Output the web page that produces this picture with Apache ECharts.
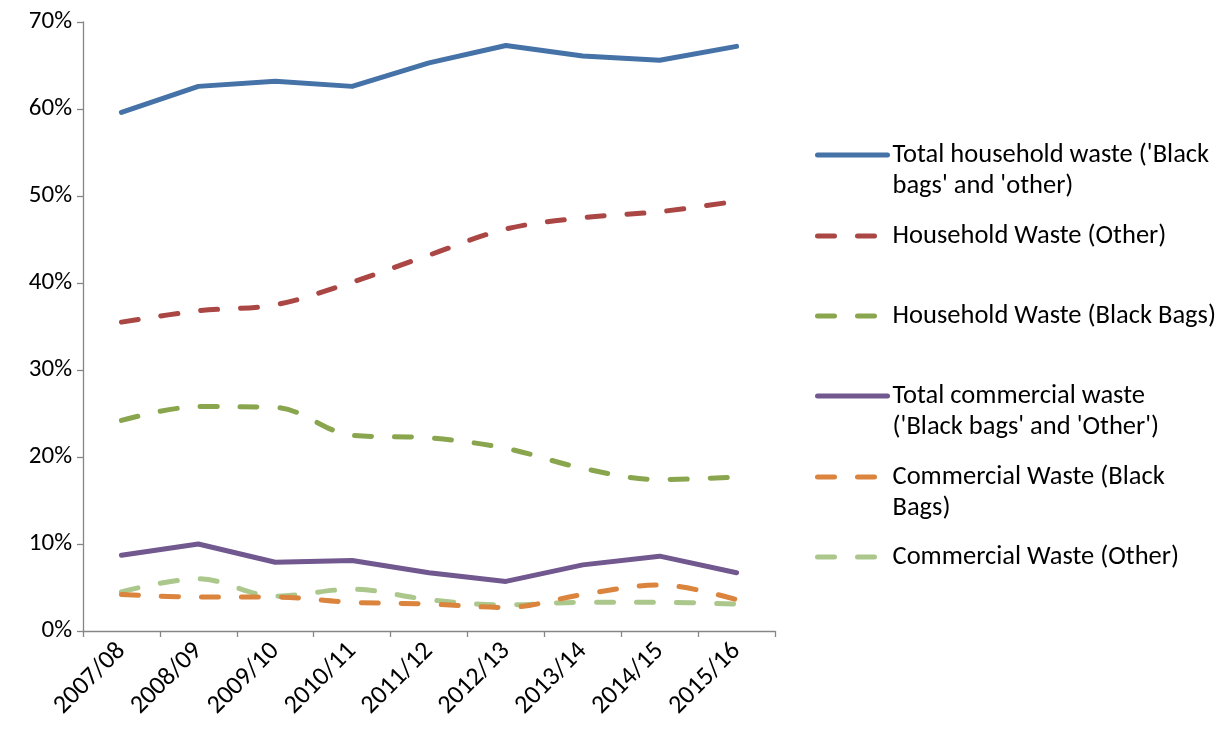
<!DOCTYPE html>
<html>
<head>
<meta charset="utf-8">
<title>Waste composition</title>
<script src="https://cdn.jsdelivr.net/npm/echarts@6/dist/echarts.min.js"></script>
<style>
  html, body { margin: 0; padding: 0; background: #ffffff; }
  #chart { width: 1220px; height: 729px; }
</style>
</head>
<body>
<div id="chart"></div>
<script>
// Financial years on the category axis
const years = ['2007/08', '2008/09', '2009/10', '2010/11', '2011/12', '2012/13', '2013/14', '2014/15', '2015/16'];

// Shares (%) for each waste stream
const totalHousehold = [59.6, 62.6, 63.2, 62.6, 65.3, 67.3, 66.1, 65.6, 67.2];
const householdOther = [35.5, 36.8, 37.5, 40.1, 43.2, 46.2, 47.5, 48.2, 49.4];
const householdBlackBags = [24.2, 25.8, 25.7, 22.5, 22.2, 21.0, 18.7, 17.4, 17.7];
const totalCommercial = [8.7, 10.0, 7.9, 8.1, 6.7, 5.7, 7.6, 8.6, 6.7];
const commercialBlackBags = [4.2, 3.9, 3.9, 3.3, 3.1, 2.7, 4.2, 5.3, 3.6];
const commercialOther = [4.5, 6.0, 4.0, 4.8, 3.6, 3.0, 3.3, 3.3, 3.1];

// Y axis ticks
const yTicks = [0, 10, 20, 30, 40, 50, 60, 70];

const seriesNames = [
  "Total household waste ('Black\nbags' and 'other)",
  'Household Waste (Other)',
  'Household Waste (Black Bags)',
  "Total commercial waste\n('Black bags' and 'Other')",
  'Commercial Waste (Black\nBags)',
  'Commercial Waste (Other)'
];
const seriesData = [totalHousehold, householdOther, householdBlackBags, totalCommercial, commercialBlackBags, commercialOther];
const seriesColors = ['#4572A7', '#AA4643', '#89A54E', '#71588F', '#DB843D', '#ABC78C'];
const dashed = [false, true, true, false, true, true];
const DASH = [17, 23];
const LINE_W = 5;

const FONT = 'Carlito, "Liberation Sans", Arial, sans-serif';
const chart = echarts.init(document.getElementById('chart'), null, { renderer: 'canvas' });

const series = seriesNames.map((name, i) => ({
  name: name,
  type: 'line',
  data: seriesData[i],
  symbol: 'none',
  smooth: dashed[i] ? 0.35 : false,
  z: 10 - i,
  lineStyle: {
    color: seriesColors[i],
    width: LINE_W,
    type: dashed[i] ? DASH : 'solid',
    cap: 'round',
    join: 'round'
  },
  itemStyle: { color: seriesColors[i] }
}));

// One legend block per series so each entry sits at its own row.
// Wrapped names get a blank leading line so the text block is centred
// on its first real line, which keeps the icon beside that line.
const LINE_H = 31;
const legendRows = [155, 236, 316, 396, 477, 557];
const legends = seriesNames.map((name, i) => {
  const twoLines = name.indexOf('\n') >= 0;
  const top = twoLines ? legendRows[i] - LINE_H * 1.5 : legendRows[i] - LINE_H / 2;
  return {
    data: [name],
    left: 815,
    top: top,
    orient: 'vertical',
    itemWidth: 70,
    itemHeight: 24,
    itemGap: 0,
    padding: 0,
    selectedMode: false,
    formatter: twoLines ? ' \n' + name : name,
    itemStyle: { opacity: 0 },
    lineStyle: {
      color: seriesColors[i],
      width: LINE_W,
      type: dashed[i] ? DASH : 'solid',
      cap: 'round',
      opacity: 1
    },
    textStyle: {
      fontFamily: FONT,
      fontSize: 26.5,
      color: '#000000',
      lineHeight: LINE_H
    }
  };
});

chart.setOption({
  animation: false,
  backgroundColor: '#ffffff',
  grid: { left: 83, right: 445, top: 22, bottom: 98, containLabel: false },
  legend: legends,
  xAxis: {
    type: 'category',
    data: years,
    boundaryGap: true,
    axisLine: { show: true, lineStyle: { color: '#868686', width: 1.3 } },
    axisTick: { show: true, length: 6, alignWithLabel: false, lineStyle: { color: '#868686', width: 1.3 } },
    axisLabel: {
      rotate: 45,
      margin: 16,
      interval: 0,
      fontFamily: FONT,
      fontSize: 26,
      color: '#000000'
    },
    splitLine: { show: false }
  },
  yAxis: {
    type: 'value',
    min: yTicks[0],
    max: yTicks[yTicks.length - 1],
    interval: 10,
    axisLine: { show: true, lineStyle: { color: '#868686', width: 1.3 } },
    axisTick: { show: true, length: 6, lineStyle: { color: '#868686', width: 1.3 } },
    axisLabel: {
      formatter: '{value}%',
      margin: 11,
      fontFamily: FONT,
      fontSize: 25,
      color: '#000000'
    },
    splitLine: { show: false }
  },
  series: series
});
</script>
</body>
</html>
